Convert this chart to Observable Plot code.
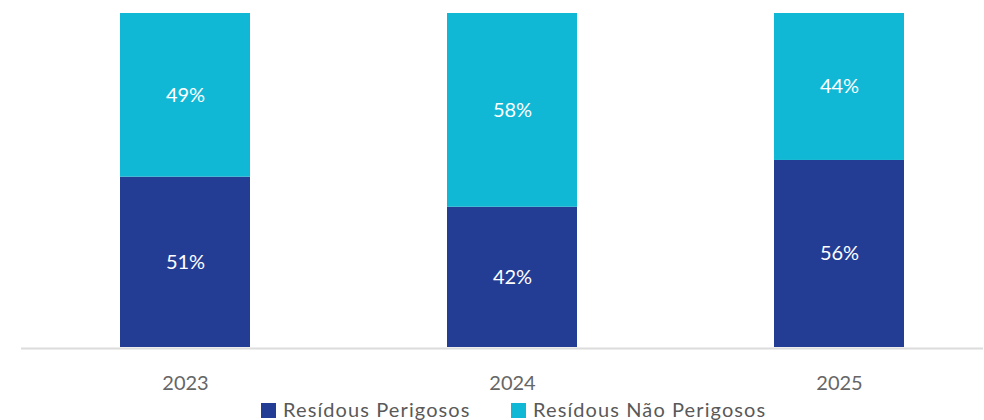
<!DOCTYPE html>
<html>
<head>
<meta charset="utf-8">
<script src="https://cdn.jsdelivr.net/npm/d3@7"></script>
<script src="https://cdn.jsdelivr.net/npm/@observablehq/plot@0.6"></script>
<style>
  body { margin: 0; background: #fff; font-family: Lato, "Open Sans", sans-serif; }
  #legend { position: relative; height: 22px; font-size: 20px; color: #595959; letter-spacing: 1.1px; }
  .item { position: absolute; top: 0; display: flex; align-items: center; white-space: nowrap; line-height: 22px; }
  .sw { width: 15px; height: 15px; margin-right: 7px; margin-top: 3px; }
</style>
</head>
<body>
<div id="chart"></div>
<div id="legend"></div>
<script>
const years = ["2023", "2024", "2025"];
const perigosos = [51, 42, 56];
const naoPerigosos = [49, 58, 44];
const series = ["Resídous Perigosos", "Resídous Não Perigosos"];
const colors = ["#233D95", "#10B8D5"];

const data = years.flatMap((y, i) => [
  {year: y, series: series[0], value: perigosos[i]},
  {year: y, series: series[1], value: naoPerigosos[i]}
]);

const chart = Plot.plot({
  width: 984,
  height: 398,
  marginTop: 13,
  marginBottom: 51,
  marginLeft: 21,
  marginRight: 1,
  style: {fontFamily: "Lato, 'Open Sans', sans-serif", fontSize: "20px", color: "#666"},
  x: {domain: years, range: [20.75, 1003.25], paddingInner: 0.603, paddingOuter: 0.3015, tickSize: 0, tickPadding: 28, label: null},
  y: {domain: [0, 100], axis: null},
  color: {domain: series, range: colors},
  marks: [
    Plot.ruleY([0], {stroke: "#dcdcdc", strokeWidth: 2, dy: 1}),
    Plot.barY(data, Plot.stackY({x: "year", y: "value", fill: "series"})),
    Plot.text(data, Plot.stackY({x: "year", y: "value", text: d => d.value + "%", fill: "white", fontSize: 20, letterSpacing: "0.5px"}))
  ]
});
document.getElementById("chart").appendChild(chart);

const legend = document.getElementById("legend");
const lefts = [261, 511];
series.forEach((s, i) => {
  const it = document.createElement("div");
  it.className = "item";
  it.style.left = lefts[i] + "px";
  const sw = document.createElement("span");
  sw.className = "sw";
  sw.style.background = colors[i];
  const t = document.createElement("span");
  t.textContent = s;
  it.appendChild(sw);
  it.appendChild(t);
  legend.appendChild(it);
});
</script>
</body>
</html>
